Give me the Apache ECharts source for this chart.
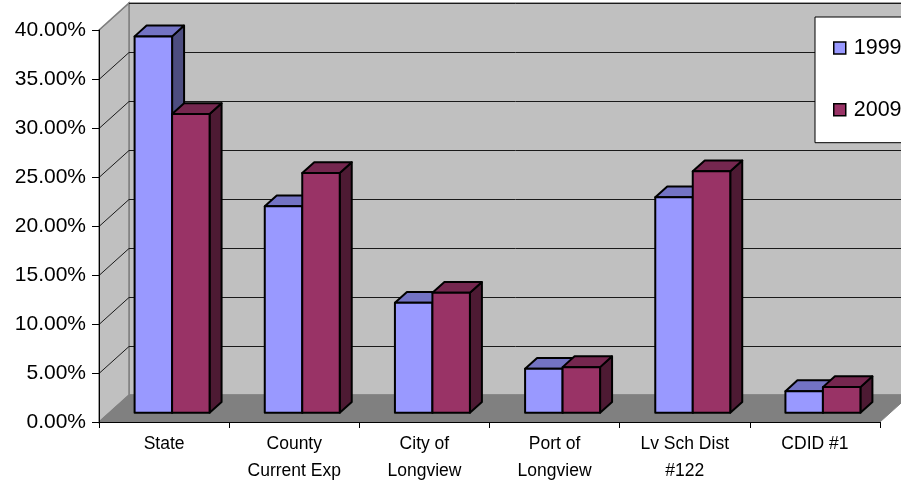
<!DOCTYPE html>
<html>
<head>
<meta charset="utf-8">
<script src="https://cdn.jsdelivr.net/npm/echarts@6/dist/echarts.min.js"></script>
<style>
  html, body { margin: 0; padding: 0; background: #ffffff; }
  #chart { width: 901px; height: 485px; }
</style>
</head>
<body>
<div id="chart"></div>
<script>
// Share of levy by taxing district, 1999 vs 2009
const categories = ['State', 'County\nCurrent Exp', 'City of\nLongview', 'Port of\nLongview', 'Lv Sch Dist\n#122', 'CDID #1'];
const seriesNames = ['1999', '2009'];
const values1999 = [0.3840, 0.2106, 0.1121, 0.0449, 0.2198, 0.0220];
const values2009 = [0.3048, 0.2446, 0.1223, 0.0465, 0.2463, 0.0261];
const yTicks = [0, 0.05, 0.10, 0.15, 0.20, 0.25, 0.30, 0.35, 0.40];

// 3D look: wall depth and bar placement (pixels)
const WALL_DX = 30, WALL_DY = -27;
const FRONT_DX = 8, FRONT_DY = -9.3;
const BAR_DX = 12, BAR_DY = -10.8;
const BAR_FRAC = 0.288;

const palettes = [
  { front: '#9999FF', top: '#7373C4', side: '#4D4D80' },
  { front: '#993366', top: '#75274F', side: '#4D1A33' }
];

const chart = echarts.init(document.getElementById('chart'), null, { renderer: 'canvas' });

function renderWalls(params, api) {
  const cs = params.coordSys;
  const x0 = cs.x, x1 = cs.x + cs.width;
  const y0 = api.coord([0, yTicks[0]])[1];
  const yTop = api.coord([0, yTicks[yTicks.length - 1]])[1];
  const children = [];
  // back wall
  children.push({
    type: 'rect',
    shape: { x: x0 + WALL_DX, y: yTop + WALL_DY, width: x1 - x0 + 40, height: y0 - yTop },
    style: { fill: '#C0C0C0', stroke: '#808080', lineWidth: 1.5 }
  });
  // side wall
  children.push({
    type: 'polygon',
    shape: { points: [[x0, yTop], [x0 + WALL_DX, yTop + WALL_DY], [x0 + WALL_DX, y0 + WALL_DY], [x0, y0]] },
    style: { fill: '#C0C0C0', stroke: '#808080', lineWidth: 1.5 }
  });
  // grid lines on back and side walls
  yTicks.forEach(function (t, i) {
    if (i === 0) return;
    const y = Math.round(api.coord([0, t])[1]) + 0.5;
    children.push({
      type: 'line',
      shape: { x1: x0 + WALL_DX, y1: y + WALL_DY, x2: x1 + WALL_DX + 40, y2: y + WALL_DY },
      style: { stroke: '#1a1a1a', lineWidth: 1 }
    });
    children.push({
      type: 'line',
      shape: { x1: x0, y1: y, x2: x0 + WALL_DX, y2: y + WALL_DY },
      style: { stroke: i === yTicks.length - 1 ? '#808080' : '#1a1a1a', lineWidth: 1 }
    });
  });
  // floor
  children.push({
    type: 'polygon',
    shape: { points: [[x0, y0], [x1, y0], [x1 + WALL_DX, y0 + WALL_DY], [x0 + WALL_DX, y0 + WALL_DY]] },
    style: { fill: '#808080', stroke: '#808080', lineWidth: 1 }
  });
  return { type: 'group', children: children };
}

function makeBarRenderer(idx) {
  const pal = palettes[idx];
  return function (params, api) {
    const cat = api.value(0);
    const v = api.value(1);
    const base = api.coord([cat, 0]);
    const top = api.coord([cat, v]);
    const band = api.size([1, 0])[0];
    const w = band * BAR_FRAC;
    const xl = base[0] + FRONT_DX + (idx === 0 ? -w : 0);
    const xr = xl + w;
    const yb = base[1] + FRONT_DY;
    const yt = top[1] + FRONT_DY;
    const stroke = { stroke: '#000000', lineWidth: 2, lineJoin: 'round' };
    return {
      type: 'group',
      children: [
        {
          type: 'polygon',
          shape: { points: [[xr, yt], [xr + BAR_DX, yt + BAR_DY], [xr + BAR_DX, yb + BAR_DY], [xr, yb]] },
          style: Object.assign({ fill: pal.side }, stroke)
        },
        {
          type: 'polygon',
          shape: { points: [[xl, yt], [xr, yt], [xr + BAR_DX, yt + BAR_DY], [xl + BAR_DX, yt + BAR_DY]] },
          style: Object.assign({ fill: pal.top }, stroke)
        },
        {
          type: 'rect',
          shape: { x: xl, y: yt, width: w, height: yb - yt },
          style: Object.assign({ fill: pal.front }, stroke)
        }
      ]
    };
  };
}

const option = {
  animation: false,
  backgroundColor: '#ffffff',
  textStyle: { fontFamily: '"Liberation Sans", Arial, sans-serif' },
  grid: { left: 99, right: 21, top: 30, bottom: 62.4, containLabel: false },
  legend: {
    orient: 'vertical',
    left: 815,
    top: 17,
    padding: [19, 24, 21, 18],
    itemWidth: 12,
    itemHeight: 12,
    itemGap: 37.7,
    backgroundColor: '#ffffff',
    borderColor: '#000000',
    borderWidth: 1,
    borderRadius: 0,
    selectedMode: false,
    icon: 'rect',
    textStyle: { fontSize: 21.5, lineHeight: 24, color: '#000000', fontFamily: '"Liberation Sans", Arial, sans-serif', padding: [0, 0, 0, 3] },
    data: seriesNames.map(function (n, i) {
      return { name: n, itemStyle: { color: palettes[i].front, borderColor: '#000000', borderWidth: 1.5 } };
    })
  },
  xAxis: {
    type: 'category',
    data: categories,
    z: 5,
    axisLine: { show: true, lineStyle: { color: '#000000', width: 1 } },
    axisTick: { show: true, length: 6, lineStyle: { color: '#000000' } },
    axisLabel: {
      color: '#000000', fontSize: 17.5, lineHeight: 27, margin: 9,
      fontFamily: '"Liberation Sans", Arial, sans-serif', interval: 0
    },
    splitLine: { show: false }
  },
  yAxis: {
    type: 'value',
    min: 0,
    max: 0.4,
    interval: 0.05,
    z: 5,
    axisLine: { show: true, lineStyle: { color: '#000000', width: 1 } },
    axisTick: { show: true, length: 7, lineStyle: { color: '#000000' } },
    axisLabel: {
      color: '#000000', fontSize: 21, margin: 13,
      fontFamily: '"Liberation Sans", Arial, sans-serif',
      formatter: function (v) { return (v * 100).toFixed(2) + '%'; }
    },
    splitLine: { show: false }
  },
  series: [
    {
      type: 'custom',
      name: 'walls',
      z: 1,
      silent: true,
      renderItem: renderWalls,
      data: [[0, 0]]
    },
    {
      type: 'custom',
      name: seriesNames[0],
      z: 2,
      itemStyle: { color: palettes[0].front },
      renderItem: makeBarRenderer(0),
      data: values1999.map(function (v, i) { return [i, v]; })
    },
    {
      type: 'custom',
      name: seriesNames[1],
      z: 3,
      itemStyle: { color: palettes[1].front },
      renderItem: makeBarRenderer(1),
      data: values2009.map(function (v, i) { return [i, v]; })
    }
  ]
};

chart.setOption(option);
</script>
</body>
</html>
